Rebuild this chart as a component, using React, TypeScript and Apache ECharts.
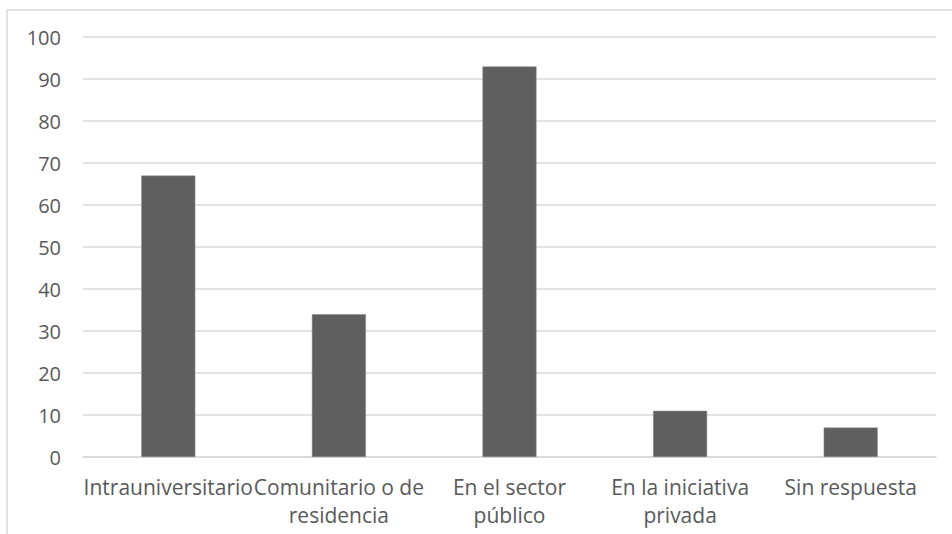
import React, { useEffect, useRef } from "react";
import * as echarts from "echarts";

const categories = [
  "Intrauniversitario",
  "Comunitario o de\nresidencia",
  "En el sector\npúblico",
  "En la iniciativa\nprivada",
  "Sin respuesta",
];
const values = [67, 34, 93, 11, 7];
const yTicks = { min: 0, max: 100, interval: 10 };

export default function App() {
  const ref = useRef<HTMLDivElement>(null);
  useEffect(() => {
    if (!ref.current) return;
    const chart = echarts.init(ref.current, null, { renderer: "svg" });
    const font = "'Open Sans', sans-serif";
    chart.setOption({
      animation: false,
      backgroundColor: "#ffffff",
      graphic: [
        {
          type: "rect",
          shape: { x: 7, y: 10, width: 1000, height: 600 },
          style: { fill: "none", stroke: "#d9d9d9", lineWidth: 1.5 },
          silent: true,
        },
      ],
      grid: { left: 83, right: 16, top: 37, bottom: 77, containLabel: false },
      xAxis: {
        type: "category",
        data: categories,
        axisLine: { show: true, lineStyle: { color: "#d9d9d9", width: 1.5 } },
        axisTick: { show: false },
        axisLabel: {
          interval: 0,
          color: "#595959",
          fontSize: 21,
          fontFamily: font,
          lineHeight: 28,
          margin: 16,
        },
      },
      yAxis: {
        type: "value",
        min: yTicks.min,
        max: yTicks.max,
        interval: yTicks.interval,
        axisLine: { show: false },
        axisTick: { show: false },
        splitLine: { lineStyle: { color: "#d9d9d9", width: 1.5 } },
        axisLabel: {
          color: "#595959",
          fontSize: 20,
          fontFamily: font,
          margin: 22,
        },
      },
      series: [
        {
          type: "bar",
          data: values,
          barWidth: 54,
          itemStyle: { color: "#5f5f5f", borderColor: "#8a8a8a", borderWidth: 0.5 },
        },
      ],
    });
    return () => chart.dispose();
  }, []);
  return (
    <div
      ref={ref}
      style={{ position: "fixed", left: 0, top: 0, width: 952, height: 534 }}
    />
  );
}
